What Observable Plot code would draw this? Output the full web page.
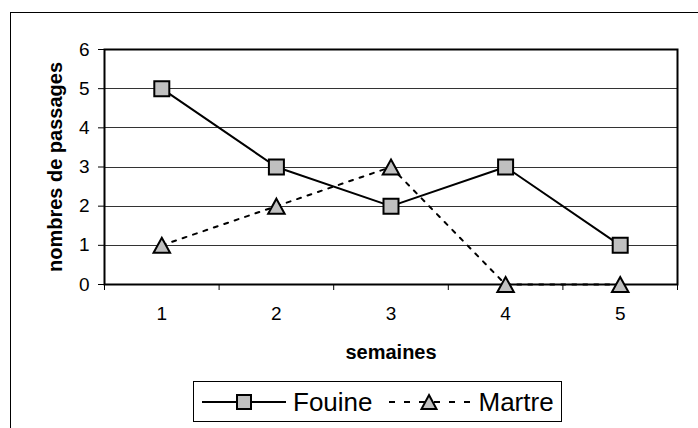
<!DOCTYPE html>
<html>
<head>
<meta charset="utf-8">
<script src="https://cdn.jsdelivr.net/npm/d3@7"></script>
<script src="https://cdn.jsdelivr.net/npm/@observablehq/plot@0.6"></script>
<style>
  body { margin: 0; background: #fff; font-family: "Liberation Sans", Arial, sans-serif; }
  #wrap { position: relative; width: 698px; height: 428px; overflow: hidden; background: #fff; }
  #wrap svg { position: absolute; left: 0; top: 0; }
  #border { position: absolute; left: 10px; top: 12px; width: 720px; height: 440px;
            border-left: 1px solid #000; border-top: 1px solid #000; pointer-events: none; }
  #legend { position: absolute; left: 193px; top: 381px; width: 367px; height: 39px;
            border: 1px solid #000; background: #fff; display: flex; align-items: center;
            font-size: 26px; color: #000; box-sizing: content-box; }
  #legend svg { position: static; display: block; }
  .lab { line-height: 1; white-space: nowrap; }
</style>
</head>
<body>
<div id="wrap"></div>
<script>
// ---- data ----
const weeks = [1, 2, 3, 4, 5];
const fouine = [5, 3, 2, 3, 1];
const martre = [1, 2, 3, 0, 0];
const yTicks = [0, 1, 2, 3, 4, 5, 6];
const gridValues = [1, 2, 3, 4, 5];
const xBounds = [0.5, 1.5, 2.5, 3.5, 4.5, 5.5];
const seriesNames = ["Fouine", "Martre"];
const xTitle = "semaines";
const yTitle = "nombres de passages";

const fouineRows = weeks.map((w, i) => ({week: w, value: fouine[i]}));
const martreRows = weeks.map((w, i) => ({week: w, value: martre[i]}));

// custom symbols centred in their bounding box (like Excel markers)
const squareSym = {
  draw(ctx, size) {
    const r = Math.sqrt(size / Math.PI);
    ctx.moveTo(-r, -r); ctx.lineTo(r, -r); ctx.lineTo(r, r); ctx.lineTo(-r, r); ctx.closePath();
  }
};
const triSym = {
  draw(ctx, size) {
    const r = Math.sqrt(size / Math.PI);
    ctx.moveTo(0, -r); ctx.lineTo(1.1 * r, r); ctx.lineTo(-1.1 * r, r); ctx.closePath();
  }
};

const intFmt = d3.format("d");

const chart = Plot.plot({
  width: 698,
  height: 428,
  marginLeft: 104,
  marginRight: 21,
  marginTop: 49,
  marginBottom: 144,
  style: {fontFamily: '"Liberation Sans", Arial, sans-serif', fontSize: "18px", background: "transparent", overflow: "visible"},
  x: {type: "linear", domain: [0.5, 5.5]},
  y: {domain: [0, 6]},
  marks: [
    Plot.ruleY(gridValues, {stroke: "#333", strokeWidth: 1, shapeRendering: "crispEdges"}),
    Plot.line(fouineRows, {x: "week", y: "value", stroke: "black", strokeWidth: 2}),
    Plot.line(martreRows, {x: "week", y: "value", stroke: "black", strokeWidth: 2, strokeDasharray: "4,7"}),
    Plot.frame({stroke: "black", strokeWidth: 2}),
    Plot.axisY({ticks: yTicks, tickSize: 6, tickPadding: 9, fontSize: 19, tickFormat: intFmt, label: null, stroke: "black", fill: "black"}),
    Plot.axisX({ticks: xBounds, tickSize: 6, tickFormat: () => "", label: null, stroke: "black"}),
    Plot.axisX({ticks: weeks, tickSize: 0, tickPadding: 22, fontSize: 19, tickFormat: intFmt, label: null, fill: "black"}),
    Plot.dot(fouineRows, {x: "week", y: "value", symbol: squareSym, r: 7.5, fill: "#c0c0c0", stroke: "black", strokeWidth: 2}),
    Plot.dot(martreRows, {x: "week", y: "value", symbol: triSym, r: 7.5, fill: "#c0c0c0", stroke: "black", strokeWidth: 2}),
    Plot.text([yTitle], {frameAnchor: "left", rotate: -90, dx: -48.5, textAnchor: "middle", fontSize: 20, fontWeight: "bold", lineAnchor: "middle", fill: "black"}),
    Plot.text([xTitle], {frameAnchor: "bottom", dy: 68, textAnchor: "middle", fontSize: 20, fontWeight: "bold", lineAnchor: "middle", fill: "black"})
  ]
});

const wrap = document.getElementById("wrap");
wrap.appendChild(chart);
const border = document.createElement("div");
border.id = "border";
wrap.appendChild(border);

// legend
const legend = document.createElement("div");
legend.id = "legend";
legend.innerHTML = `
  <svg width="84" height="22" style="margin-left:8px">
    <line x1="0" x2="84" y1="11" y2="11" stroke="black" stroke-width="2"/>
    <rect x="35" y="4" width="14" height="14" fill="#c0c0c0" stroke="black" stroke-width="2"/>
  </svg>
  <span class="lab" style="margin-left:7px">${seriesNames[0]}</span>
  <svg width="88" height="22" style="margin-left:13px">
    <line x1="3" x2="88" y1="11" y2="11" stroke="black" stroke-width="2" stroke-dasharray="6,9"/>
    <path d="M43,4 L50.5,18 L35.5,18 Z" fill="#c0c0c0" stroke="black" stroke-width="2"/>
  </svg>
  <span class="lab" style="margin-left:5px">${seriesNames[1]}</span>`;
wrap.appendChild(legend);
</script>
</body>
</html>
